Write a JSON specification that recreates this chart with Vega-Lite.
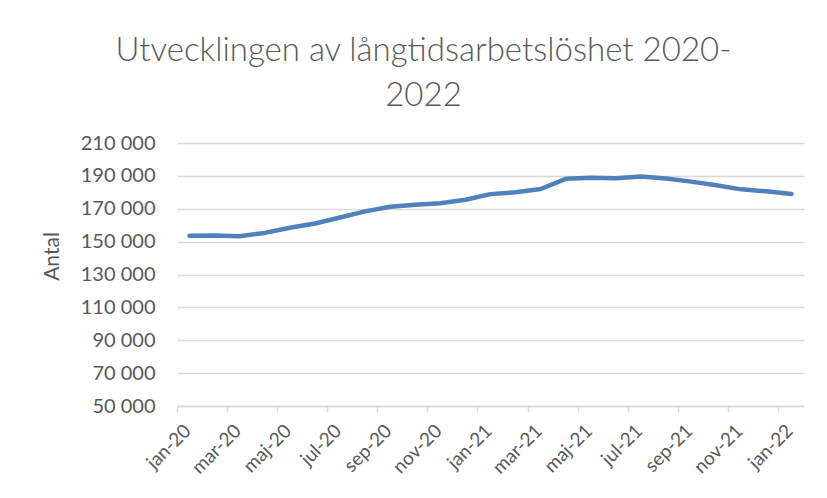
{
  "$schema": "https://vega.github.io/schema/vega-lite/v6.json",
  "width": 627,
  "height": 263,
  "autosize": {"type": "none"},
  "padding": {"left": 177, "top": 143, "right": 23, "bottom": 92},
  "background": "white",
  "title": {
    "text": ["Utvecklingen av långtidsarbetslöshet 2020-", "2022"],
    "font": "Lato",
    "fontWeight": 300,
    "fontSize": 33,
    "color": "#595959",
    "lineHeight": 45,
    "anchor": "middle",
    "dx": -67,
    "offset": 20
  },
  "data": {
    "values": [
      {"month": "jan-20", "antal": 153500},
      {"month": "feb-20", "antal": 153700},
      {"month": "mar-20", "antal": 153300},
      {"month": "apr-20", "antal": 155300},
      {"month": "maj-20", "antal": 158400},
      {"month": "jun-20", "antal": 161000},
      {"month": "jul-20", "antal": 164700},
      {"month": "aug-20", "antal": 168400},
      {"month": "sep-20", "antal": 171200},
      {"month": "okt-20", "antal": 172400},
      {"month": "nov-20", "antal": 173300},
      {"month": "dec-20", "antal": 175500},
      {"month": "jan-21", "antal": 178900},
      {"month": "feb-21", "antal": 180000},
      {"month": "mar-21", "antal": 182000},
      {"month": "apr-21", "antal": 188200},
      {"month": "maj-21", "antal": 188800},
      {"month": "jun-21", "antal": 188600},
      {"month": "jul-21", "antal": 189600},
      {"month": "aug-21", "antal": 188400},
      {"month": "sep-21", "antal": 186500},
      {"month": "okt-21", "antal": 184300},
      {"month": "nov-21", "antal": 181800},
      {"month": "dec-21", "antal": 180600},
      {"month": "jan-22", "antal": 179000}
    ]
  },
  "mark": {"type": "line", "color": "#4f81bd", "strokeWidth": 4.5, "strokeCap": "round", "strokeJoin": "round"},
  "encoding": {
    "x": {
      "field": "month",
      "type": "nominal",
      "sort": null,
      "scale": {"type": "band", "paddingInner": 0, "paddingOuter": 0},
      "axis": {
        "title": null,
        "values": ["jan-20", "mar-20", "maj-20", "jul-20", "sep-20", "nov-20", "jan-21", "mar-21", "maj-21", "jul-21", "sep-21", "nov-21", "jan-22"],
        "bandPosition": 0,
        "labelAngle": -45,
        "labelFont": "Lato",
        "labelFontSize": 19,
        "labelColor": "#595959",
        "labelPadding": 9,
        "labelOffset": -8,
        "ticks": true,
        "tickSize": 6,
        "tickColor": "#d9d9d9",
        "tickWidth": 1.5,
        "domainColor": "#d9d9d9",
        "domainWidth": 1.5,
        "grid": false
      }
    },
    "y": {
      "field": "antal",
      "type": "quantitative",
      "scale": {"domain": [50000, 210000], "nice": false, "zero": false},
      "axis": {
        "title": "Antal",
        "titleFont": "Lato",
        "titleFontWeight": "normal",
        "titleFontSize": 21,
        "titleColor": "#595959",
        "titlePadding": 18,
        "titleY": 113,
        "values": [50000, 70000, 90000, 110000, 130000, 150000, 170000, 190000, 210000],
        "labelExpr": "replace(format(datum.value, ','), regexp(',', 'g'), ' ')",
        "labelFont": "Lato",
        "labelFontSize": 20,
        "labelColor": "#595959",
        "labelPadding": 22,
        "ticks": false,
        "domain": false,
        "grid": true,
        "gridColor": "#d9d9d9",
        "gridWidth": 1.5
      }
    }
  },
  "config": {
    "view": {"stroke": null}
  }
}
